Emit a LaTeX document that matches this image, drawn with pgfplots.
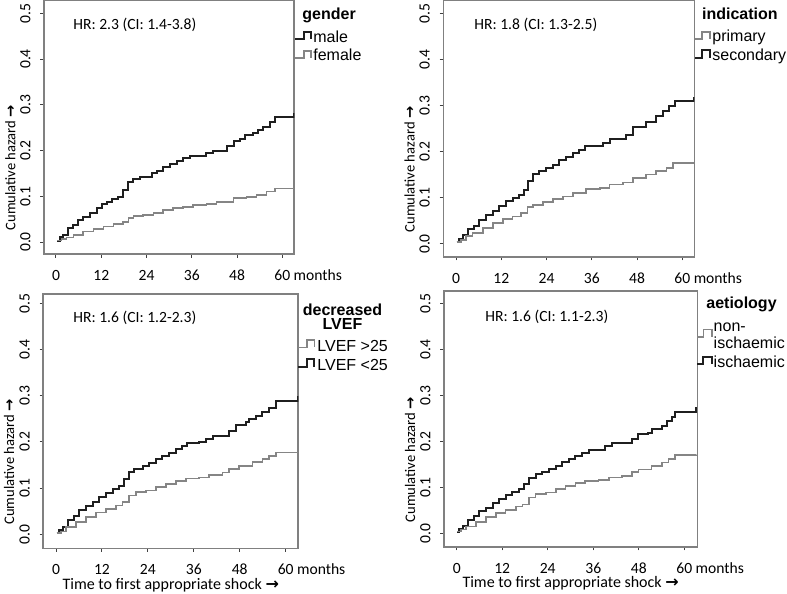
\documentclass[border=0pt]{standalone}
\usepackage{pgfplots}
\pgfplotsset{compat=1.18}
\usepackage{fontspec}
\setmainfont{Carlito}
\newfontfamily\arial{Liberation Sans}
\newfontfamily\dejavu{DejaVu Sans}
\newcommand{\arr}{{\dejavu\bfseries\char"2192}}

\pgfplotsset{
  kmpanel/.style={
    scale only axis,
    anchor=south west,
    axis line style={black!50, line width=0.8pt},
    tick style={black!75, line width=0.5pt},
    tick align=outside, tick pos=left,
    major tick length=1.8pt,
    xtick={0,12,24,36,48,60},
    xticklabels={0,12,24,36,48,60\rlap{ months}},
    ytick={0,0.1,0.2,0.3,0.4,0.5},
    yticklabels={0.0,0.1,0.2,0.3,0.4,0.5},
    ticklabel style={font=\fontsize{7.8}{8}\selectfont, text=black},
    xticklabel style={anchor=base, yshift=-11.5pt},
    yticklabel style={xshift=-5pt, rotate=90, anchor=base},
    ylabel={Cumulative hazard \arr},
    ylabel style={font=\fontsize{7.3}{8}\selectfont, at={(axis description cs:-0.134,0.34)}, anchor=center},
  },
  bottompanel/.style={
    xlabel={Time to first appropriate shock \arr},
    xlabel style={font=\fontsize{8}{9}\selectfont, at={(axis description cs:0.5,-0.144)}, anchor=center},
  },
  blk/.style={const plot, color=black!88, line width=1pt},
  gry/.style={const plot, color=black!48, line width=0.8pt},
}

\newcommand{\kmkey}[7]{\draw[#1, line width=#2] (#3,#6) -- (#4,#6) -- (#4,#7) -- (#5,#7) -- (#5,#6);}

\begin{document}
\begin{tikzpicture}
\useasboundingbox (0,0) rectangle (393.5pt,-297pt);

% top left: gender
\begin{axis}[kmpanel, at={(22pt,-127pt)}, width=125.15pt, height=127pt,
  xmin=-3.18, xmax=63.18, ymin=-0.0262, ymax=0.529]
\addplot[blk] coordinates {
(0.35,0.003)(1.06,0.010)(1.94,0.015)(3.27,0.030)(4.59,0.037)(5.92,0.048)(7.24,0.055)(9.01,0.063)
(10.78,0.074)(12.1,0.083)(13.4,0.088)(14.75,0.093)(16.5,0.099)(17.8,0.114)(19.2,0.132)(20.5,0.137)
(22.3,0.142)(24.0,0.143)(25.4,0.150)(26.7,0.156)(28.4,0.165)(30.2,0.171)(32.0,0.176)(33.7,0.183)
(35.5,0.188)(39.9,0.194)(41.7,0.200)(45.3,0.209)(47.1,0.220)(48.8,0.225)(50.1,0.234)(52.3,0.238)
(53.6,0.245)(55.0,0.252)(56.7,0.263)(58.0,0.273)(63.0,0.273)(63.1,0.283)};
\addplot[gry] coordinates {
(0.35,0.003)(1.5,0.006)(2.8,0.010)(4.6,0.015)(7.2,0.023)(9.9,0.028)(12.6,0.034)(15.2,0.039)
(17.8,0.044)(19.2,0.052)(20.5,0.057)(23.1,0.059)(25.8,0.064)(28.4,0.070)(31.1,0.074)(33.7,0.077)
(36.4,0.081)(39.9,0.083)(42.6,0.088)(47.1,0.096)(50.5,0.099)(53.2,0.103)(55.8,0.110)(58.0,0.117)
(63.1,0.118)};
\end{axis}

% top right: indication
\begin{axis}[kmpanel, at={(221.65pt,-128.35pt)}, width=125.5pt, height=128.35pt,
  xmin=-3.37, xmax=63.18, ymin=-0.0276, ymax=0.530]
\addplot[blk] coordinates {
(0.18,0.004)(0.88,0.011)(1.77,0.020)(3.1,0.033)(4.87,0.040)(6.19,0.053)(7.96,0.062)(9.73,0.071)
(11.5,0.082)(13.3,0.093)(15.0,0.100)(16.8,0.107)(18.1,0.118)(19.0,0.136)(20.4,0.151)(22.1,0.158)
(23.9,0.165)(25.7,0.172)(27.4,0.183)(29.2,0.190)(31.0,0.198)(32.7,0.205)(34.1,0.212)(38.9,0.219)
(40.7,0.228)(45.1,0.237)(46.9,0.254)(50.4,0.266)(53.1,0.277)(54.9,0.288)(56.6,0.299)(58.0,0.310)
(62.9,0.310)(63.0,0.320)};
\addplot[gry] coordinates {
(0.18,0.004)(1.33,0.009)(2.65,0.017)(4.42,0.024)(7.08,0.035)(9.73,0.046)(12.4,0.054)(15.0,0.060)
(17.3,0.067)(19.0,0.080)(20.4,0.085)(23.0,0.091)(25.7,0.098)(28.3,0.103)(31.0,0.111)(34.5,0.119)
(38.1,0.122)(40.7,0.129)(44.2,0.134)(46.9,0.143)(50.4,0.151)(53.1,0.158)(55.8,0.165)(57.5,0.176)
(63.0,0.178)};
\end{axis}

% bottom left: decreased LVEF
\begin{axis}[kmpanel, bottompanel, at={(21.65pt,-274.15pt)}, width=127.5pt, height=127.15pt,
  xmin=-3.32, xmax=63.3, ymin=-0.0303, ymax=0.520]
\addplot[blk] coordinates {
(0.17,0.003)(0.87,0.009)(1.74,0.016)(3.04,0.032)(4.78,0.039)(6.09,0.052)(7.83,0.061)(9.57,0.070)
(11.3,0.080)(13.0,0.090)(14.8,0.098)(16.5,0.105)(17.8,0.120)(19.1,0.134)(20.4,0.141)(22.6,0.147)
(24.3,0.154)(26.1,0.163)(27.8,0.170)(29.6,0.177)(31.3,0.184)(33.0,0.192)(34.3,0.197)(37.4,0.199)
(39.1,0.206)(40.9,0.213)(45.2,0.224)(47.0,0.236)(49.6,0.242)(50.4,0.249)(52.2,0.256)(53.9,0.265)
(55.7,0.274)(57.4,0.288)(62.9,0.288)(63.1,0.299)};
\addplot[gry] coordinates {
(0.17,0.003)(1.3,0.006)(2.6,0.016)(5.2,0.027)(7.8,0.037)(10.4,0.047)(13.0,0.055)(15.7,0.062)
(17.4,0.070)(19.1,0.084)(20.9,0.091)(23.5,0.095)(26.1,0.102)(28.7,0.109)(31.3,0.116)(33.9,0.121)
(37.4,0.123)(40.0,0.128)(43.5,0.134)(45.2,0.141)(47.8,0.148)(51.3,0.156)(53.9,0.163)(55.7,0.170)
(57.4,0.177)(63.1,0.178)};
\end{axis}

% bottom right: aetiology
\begin{axis}[kmpanel, bottompanel, at={(222pt,-273.35pt)}, width=126.65pt, height=128pt,
  xmin=-3.35, xmax=63.43, ymin=-0.029, ymax=0.527]
\addplot[blk] coordinates {
(0.2,0.004)(0.7,0.009)(1.57,0.015)(2.89,0.030)(4.64,0.037)(5.95,0.049)(7.7,0.056)(9.45,0.066)
(11.2,0.074)(12.9,0.083)(14.7,0.090)(16.4,0.096)(17.8,0.107)(19.1,0.121)(20.8,0.128)(22.6,0.133)
(24.3,0.139)(26.1,0.146)(27.8,0.154)(29.6,0.161)(31.3,0.168)(33.1,0.174)(34.8,0.181)(39.2,0.190)
(40.9,0.196)(46.2,0.206)(47.9,0.215)(50.5,0.219)(51.4,0.227)(54.1,0.234)(55.4,0.244)(56.7,0.253)
(57.6,0.263)(63.0,0.263)(63.2,0.275)};
\addplot[gry] coordinates {
(0.2,0.004)(1.1,0.008)(2.45,0.015)(5.1,0.025)(7.7,0.035)(10.3,0.044)(12.9,0.051)(15.6,0.058)
(17.3,0.063)(19.1,0.078)(20.8,0.085)(23.5,0.089)(26.1,0.096)(28.7,0.103)(31.3,0.109)(33.9,0.114)
(37.4,0.116)(40.1,0.121)(43.6,0.125)(46.2,0.133)(47.9,0.139)(51.4,0.146)(54.1,0.154)(55.8,0.161)
(57.6,0.170)(63.2,0.171)};
\end{axis}

% annotations and legends (coordinates in image pixels)
\begin{scope}[x=0.5pt, y=-0.5pt]
  \tikzset{hr/.style={anchor=west, inner sep=0pt, font=\fontsize{7.8}{9}\selectfont},
           lt/.style={anchor=base west, inner sep=0pt, font=\arial\fontsize{8}{9}\selectfont},
           tt/.style={inner sep=0pt, font=\arial\bfseries\fontsize{8}{9}\selectfont}}
  \node[hr] at (73,25) {HR: 2.3 (CI: 1.4-3.8)};
  \node[hr] at (474,25) {HR: 1.8 (CI: 1.3-2.5)};
  \node[hr] at (73,318) {HR: 1.6 (CI: 1.2-2.3)};
  \node[hr] at (485,317) {HR: 1.6 (CI: 1.1-2.3)};

  % gender
  \node[tt, anchor=base west] at (302,19) {gender};
  \kmkey{black!88}{1pt}{295}{304}{311}{39.3}{32}
  \node[lt] at (313,42.7) {male};
  \kmkey{black!48}{0.8pt}{295}{304}{311}{58}{51}
  \node[lt] at (313,61) {female};

  % indication
  \node[tt, anchor=base west] at (701.7,19.3) {indication};
  \kmkey{black!48}{0.8pt}{695}{702}{710}{39}{32}
  \node[lt] at (712,41.7) {primary};
  \kmkey{black!88}{1pt}{695}{702}{710}{57.7}{50.3}
  \node[lt] at (712,60.5) {secondary};

  % decreased LVEF
  \node[tt, anchor=base] at (342.5,315.5) {decreased};
  \node[tt, anchor=base] at (342.5,329) {LVEF};
  \kmkey{black!48}{0.8pt}{298.3}{306.7}{314.3}{347.3}{340}
  \node[lt] at (317,351.7) {LVEF >25};
  \kmkey{black!88}{1pt}{298.3}{306.7}{314.3}{367.3}{359.3}
  \node[lt] at (317,370) {LVEF <25};

  % aetiology
  \node[tt, anchor=base west] at (706,308.3) {aetiology};
  \kmkey{black!48}{0.8pt}{697.3}{703.3}{711.7}{336.7}{329.3}
  \node[lt] at (713.3,331.7) {non-};
  \node[lt] at (713.3,348.3) {ischaemic};
  \kmkey{black!88}{1pt}{697.3}{703.3}{711.7}{364}{356.7}
  \node[lt] at (713.3,367.3) {ischaemic};
\end{scope}
\end{tikzpicture}
\end{document}
